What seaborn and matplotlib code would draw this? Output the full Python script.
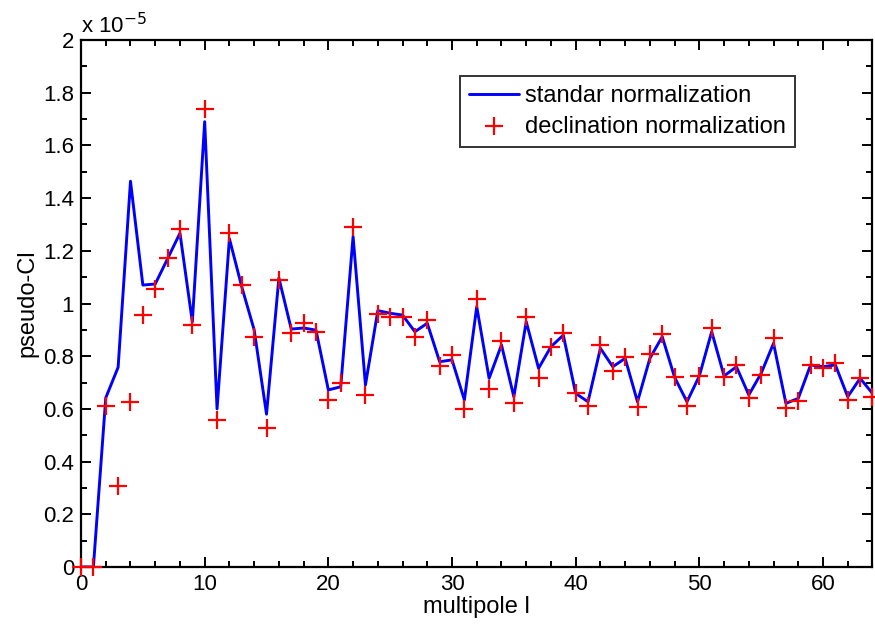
import numpy as np
import pandas as pd
import matplotlib
matplotlib.use("Agg")
import matplotlib.pyplot as plt
import seaborn as sns
from matplotlib.ticker import MultipleLocator, FuncFormatter

# multipole l
ell = list(range(0, 65))

# pseudo-Cl (in units of 1e-5), standard normalization (line)
cl_standard = [0, 0, 0.642, 0.758, 1.464, 1.07, 1.074, 1.17, 1.267, 0.93,
               1.69, 0.60, 1.246, 1.063, 0.90, 0.58, 1.097, 0.903, 0.907, 0.899,
               0.672, 0.684, 1.254, 0.691, 0.973, 0.963, 0.956, 0.893, 0.925, 0.779,
               0.786, 0.634, 0.988, 0.716, 0.843, 0.646, 0.931, 0.754, 0.836, 0.88,
               0.659, 0.627, 0.83, 0.76, 0.792, 0.627, 0.792, 0.874, 0.72, 0.627,
               0.725, 0.893, 0.725, 0.76, 0.653, 0.735, 0.849, 0.621, 0.64, 0.767,
               0.76, 0.767, 0.646, 0.716, 0.659]

# pseudo-Cl (in units of 1e-5), declination normalization (crosses)
cl_declination = [0, 0, 0.611, 0.307, 0.626, 0.955, 1.054, 1.172, 1.284, 0.917,
                  1.739, 0.558, 1.267, 1.069, 0.872, 0.527, 1.09, 0.887, 0.925, 0.893,
                  0.634, 0.70, 1.289, 0.653, 0.96, 0.95, 0.948, 0.872, 0.937, 0.763,
                  0.805, 0.60, 1.018, 0.674, 0.859, 0.621, 0.95, 0.718, 0.836, 0.887,
                  0.662, 0.611, 0.842, 0.745, 0.796, 0.606, 0.808, 0.884, 0.72, 0.611,
                  0.725, 0.906, 0.722, 0.767, 0.64, 0.729, 0.868, 0.602, 0.631, 0.767,
                  0.754, 0.773, 0.634, 0.718, 0.646]

labels = ["standar normalization", "declination normalization"]

df = pd.DataFrame({"l": ell, "std": cl_standard, "dec": cl_declination})

sns.set_style("white")
plt.rcParams["font.family"] = ["Liberation Sans", "DejaVu Sans"]
plt.rcParams["font.size"] = 16
plt.rcParams["text.color"] = "black"
plt.rcParams["axes.labelcolor"] = "black"
plt.rcParams["xtick.color"] = "black"
plt.rcParams["ytick.color"] = "black"

fig = plt.figure(figsize=(8.75, 6.3), dpi=100)
ax = fig.add_axes([0.0926, 0.1, 0.9045, 0.8365])

sns.lineplot(data=df, x="l", y="std", ax=ax, color="#0000ff", linewidth=2.1,
             label=labels[0])
sns.scatterplot(data=df, x="l", y="dec", ax=ax, color="#ff0000", marker="+",
                s=175, linewidth=1.6, label=labels[1], clip_on=False, zorder=3)

ax.set_xlim(0, 64)
ax.set_ylim(0, 2)
ax.xaxis.set_major_locator(MultipleLocator(10))
ax.xaxis.set_minor_locator(MultipleLocator(2))
ax.yaxis.set_major_locator(MultipleLocator(0.2))
ax.yaxis.set_minor_locator(MultipleLocator(0.1))
ax.yaxis.set_major_formatter(FuncFormatter(lambda v, p: f"{v:g}"))

for s in ax.spines.values():
    s.set_color("black")
    s.set_linewidth(1.6)
ax.tick_params(which="both", direction="in", top=True, right=True,
               bottom=True, left=True, color="black", labelcolor="black",
               width=1.4)
ax.tick_params(which="major", length=7, labelsize=16, pad=5)
ax.tick_params(which="minor", length=4)

ax.set_xlabel("multipole l", fontsize=17, labelpad=1, color="black")
ax.set_ylabel("pseudo-Cl", fontsize=17, labelpad=3, color="black")

ax.text(0.0, 1.004, r"x 10$^{-5}$", transform=ax.transAxes, fontsize=16,
        ha="left", va="bottom", color="black")

leg = ax.legend(loc="upper right", bbox_to_anchor=(0.902, 0.932), frameon=True,
                fancybox=False, edgecolor="black", fontsize=17,
                handlelength=2.1, borderpad=0.4, labelspacing=0.35,
                handletextpad=0.25, borderaxespad=0)
leg.get_frame().set_linewidth(1.4)
for t in leg.get_texts():
    t.set_color("black")

fig.savefig("out.png", dpi=100)
